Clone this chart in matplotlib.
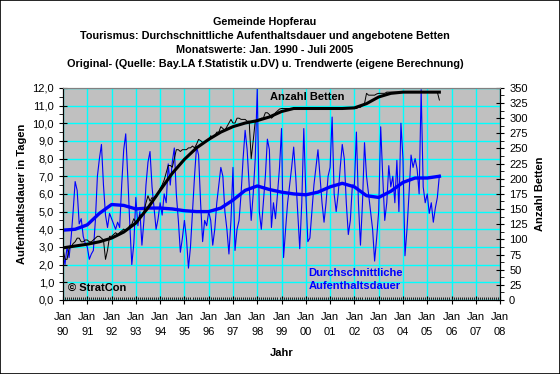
import numpy as np
import matplotlib
matplotlib.use("Agg")
import matplotlib.pyplot as plt
from matplotlib.ticker import MultipleLocator, FixedLocator, FuncFormatter

plt.rcParams['font.family'] = ['Liberation Sans', 'DejaVu Sans']

# monthly values Jan 1990 - Jul 2005
dauer = [
    2.6, 2.0, 3.0, 2.4, 3.5, 5.0, 6.7, 6.2, 4.3, 4.6, 3.6, 3.2,      # 1990
    3.0, 2.3, 2.6, 2.8, 4.5, 7.0, 8.0, 8.8, 6.5, 4.8, 4.1, 4.9,      # 1991
    4.6, 4.3, 4.0, 4.4, 4.1, 6.5, 8.5, 9.4, 7.0, 4.3, 2.0, 3.2,      # 1992
    5.8, 4.2, 5.0, 3.1, 4.5, 6.5, 7.8, 8.4, 6.4, 5.2, 4.0, 4.6,      # 1993
    5.5, 4.8, 6.0, 5.5, 7.7, 6.5, 7.8, 8.6, 6.0, 4.5, 2.7, 3.5,      # 1994
    4.5, 3.5, 1.8, 3.0, 5.0, 7.0, 8.7, 8.2, 5.5, 3.3, 4.5, 4.2,      # 1995
    5.0, 4.5, 3.1, 4.0, 5.5, 6.5, 7.5, 7.0, 5.0, 4.0, 2.6, 4.5,      # 1996
    7.5, 2.8, 4.0, 4.5, 6.0, 8.0, 9.6, 8.5, 6.5, 4.5, 6.0, 8.0,      # 1997
    12.0, 5.0, 4.0, 5.5, 7.0, 9.1, 8.5, 4.1, 5.5, 4.6, 6.0, 7.5,     # 1998
    9.7, 2.4, 4.0, 5.5, 6.5, 7.5, 8.65, 7.0, 5.0, 2.9, 5.5, 9.7,     # 1999
    6.0, 3.3, 3.5, 5.0, 6.5, 7.5, 8.5, 7.0, 5.5, 4.4, 5.5, 7.0,      # 2000
    7.5, 10.35, 6.0, 5.0, 6.0, 7.5, 8.8, 8.0, 5.5, 3.7, 4.5, 6.5,    # 2001
    6.5, 9.5, 5.5, 3.1, 5.5, 8.9, 7.0, 6.0, 5.0, 4.0, 2.2, 3.5,      # 2002
    5.0, 9.8, 7.0, 4.5, 5.5, 7.6, 6.4, 7.0, 5.5, 7.9, 5.0, 10.0,     # 2003
    8.0, 2.5, 4.0, 6.0, 8.2, 7.5, 8.0, 7.4, 6.0, 11.9, 6.4, 5.5,     # 2004
    6.0, 4.9, 5.5, 4.4, 5.2, 5.8, 7.05,                              # 2005
]
betten = [
    85, 67, 67, 85, 88, 93, 96, 102, 102, 96, 96, 99,
    99, 96, 96, 99, 102, 105, 105, 102, 99, 67, 82, 105,
    105, 108, 111, 108, 111, 114, 117, 114, 117, 123, 125, 134,
    128, 131, 140, 140, 146, 160, 172, 163, 169, 166, 169, 175,
    184, 190, 198, 210, 222, 222, 219, 233, 248, 248, 245, 248,
    248, 248, 251, 251, 254, 251, 257, 265, 263, 260, 260, 263,
    263, 271, 268, 271, 277, 277, 286, 283, 280, 286, 292, 298,
    292, 292, 300, 300, 298, 298, 298, 295, 295, 233, 263, 295,
    298, 298, 300, 300, 309, 309, 306, 300, 303, 309, 312, 315,
    316, 316, 316, 316, 316, 316, 316, 316, 316, 316, 316, 316,
    316, 316, 316, 316, 316, 316, 316, 316, 316, 316, 316, 316,
    316, 316, 316, 316, 316, 316, 316, 316, 316, 316, 316, 316,
    316, 316, 318, 318, 321, 324, 341, 338, 338, 338, 338, 340,
    341, 341, 341, 341, 343, 343, 343, 343, 343, 343, 343, 343,
    343, 343, 343, 343, 343, 343, 343, 343, 343, 343, 343, 343,
    343, 343, 343, 343, 343, 343, 330,
]

# trend values, half-yearly
trend_jahr = [1990.0, 1990.5, 1991.0, 1991.5, 1992.0, 1992.5, 1993.0, 1993.5,
              1994.0, 1994.5, 1995.0, 1995.5, 1996.0, 1996.5, 1997.0, 1997.5,
              1998.0, 1998.5, 1999.0, 1999.5, 2000.0, 2000.5, 2001.0, 2001.5,
              2002.0, 2002.5, 2003.0, 2003.5, 2004.0, 2004.5, 2005.0, 2005.5]
trend_dauer = [3.95, 4.0, 4.25, 4.9, 5.4, 5.35, 5.15, 5.2,
               5.2, 5.15, 5.05, 5.0, 5.0, 5.2, 5.65, 6.2,
               6.45, 6.25, 6.1, 6.0, 5.95, 6.1, 6.4, 6.6,
               6.4, 5.9, 5.8, 6.15, 6.65, 6.9, 6.9, 7.0]
trend_betten = [86, 89, 92, 96, 102, 112, 127, 152,
                181, 209, 232, 251, 265, 277, 286, 292,
                296, 302, 311, 316, 316, 316, 316, 316,
                317, 324, 335, 341, 343, 343, 343, 343]

x_jahre = list(range(1990, 2009))
x_labels = ["Jan\n%02d" % (j % 100) for j in x_jahre]

monate = 1990 + np.arange(len(dauer)) / 12.0

fig = plt.figure(figsize=(5.6, 3.74), dpi=100)
fig.patches.append(plt.Rectangle((0, 0), 1, 1, transform=fig.transFigure,
                                 fill=False, edgecolor='black', linewidth=1.2))
ax = fig.add_axes([0.1125, 0.198, 0.7805, 0.567])
ax.set_facecolor('#C0C0C0')

ax.plot(monate, dauer, color='#0000FF', linewidth=0.8, zorder=3)
ax.plot(trend_jahr, trend_dauer, color='#0000FF', linewidth=2.4, zorder=4)

ax.set_xlim(1990, 2008)
ax.set_ylim(0, 12)
ax.xaxis.set_major_locator(FixedLocator(x_jahre))
ax.xaxis.set_minor_locator(MultipleLocator(1 / 12))
ax.set_xticklabels(x_labels, fontsize=8, linespacing=1.6)
ax.yaxis.set_major_locator(MultipleLocator(1))
ax.yaxis.set_minor_locator(MultipleLocator(0.5))
ax.yaxis.set_major_formatter(FuncFormatter(lambda v, p: ("%.1f" % v).replace('.', ',')))
ax.tick_params(axis='x', which='major', direction='inout', length=6, pad=6)
ax.tick_params(axis='x', which='minor', direction='in', length=2)
ax.tick_params(axis='y', which='major', direction='inout', length=6, labelsize=8)
ax.tick_params(axis='y', which='minor', direction='out', length=3)
ax.grid(True, which='major', color='#00FFFF', linewidth=1.0)
ax.set_axisbelow(True)
ax.spines['top'].set_color('#808080')

ax.set_ylabel("Aufenthaltsdauer in Tagen", fontsize=8, fontweight='bold', labelpad=4)
ax.set_xlabel("Jahr", fontsize=8, fontweight='bold', labelpad=8)

ax2 = ax.twinx()
ax2.plot(monate, betten, color='black', linewidth=0.7, zorder=3)
ax2.plot(trend_jahr, trend_betten, color='black', linewidth=2.2, zorder=4)
ax2.set_ylim(0, 350)
ax2.yaxis.set_major_locator(MultipleLocator(25))
ax2.yaxis.set_minor_locator(MultipleLocator(12.5))
ax2.tick_params(axis='y', which='major', direction='inout', length=6, labelsize=8)
ax2.tick_params(axis='y', which='minor', direction='out', length=3)
ax2.spines['top'].set_color('#808080')
ax2.set_ylabel("Anzahl Betten", fontsize=8, fontweight='bold', labelpad=5)

ax2.text(2000.05, 335, "Anzahl Betten", fontsize=8, fontweight='bold',
         ha='center', va='center', color='black')
ax.text(2000.1, 1.15, "Durchschnittliche\nAufenthaltsdauer", fontsize=8,
        fontweight='bold', color='#0000FF', ha='left', va='center', linespacing=1.4)
ax.text(1990.2, 0.7, "© StratCon", fontsize=8, fontweight='bold',
        ha='left', va='center', color='black')

titel = ("Gemeinde Hopferau\n"
         "Tourismus: Durchschnittliche Aufenthaltsdauer und angebotene Betten\n"
         "Monatswerte: Jan. 1990 - Juli 2005\n"
         "Original- (Quelle: Bay.LA f.Statistik u.DV) u. Trendwerte (eigene Berechnung)")
fig.text(0.473, 0.955, titel, fontsize=7.8, fontweight='bold', ha='center', va='top',
         linespacing=1.5)

fig.savefig("out.png", dpi=100)
